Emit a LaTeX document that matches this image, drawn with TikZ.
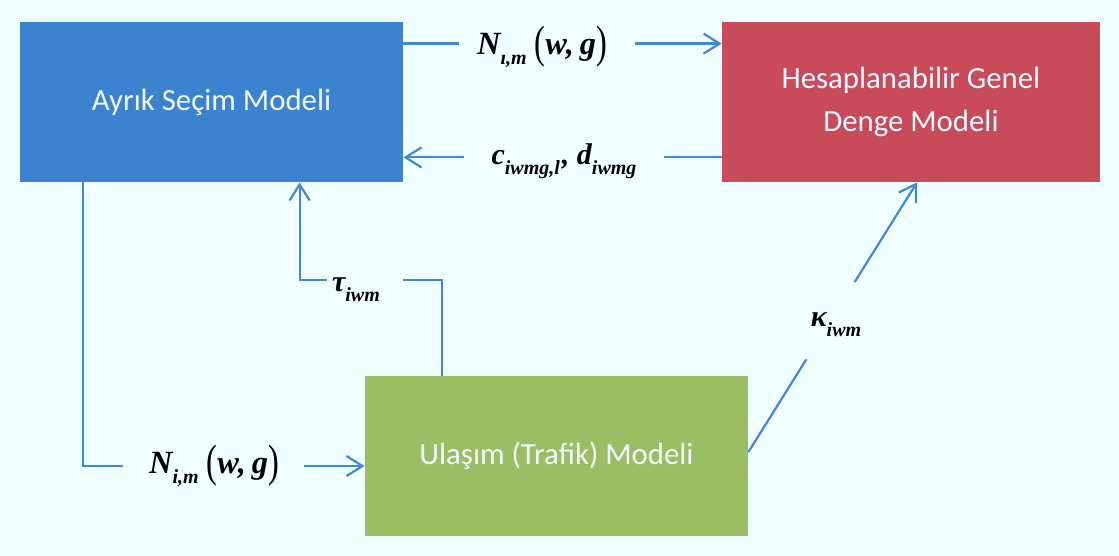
\documentclass[tikz,border=0pt]{standalone}
\usepackage{fontspec}
\usepackage{graphicx}
\setmainfont{Carlito}
\newfontfamily\lblfont{Liberation Serif}
\usetikzlibrary{arrows.meta,calc}

\definecolor{bg}{HTML}{F0FFFF}
\definecolor{bluebox}{HTML}{3B82CF}
\definecolor{redbox}{HTML}{C84B59}
\definecolor{greenbox}{HTML}{9BBE64}
\definecolor{linkc}{HTML}{4288D8}
\definecolor{boxtext}{HTML}{F2F8FF}

% subscript and tall parentheses for the flow labels
\newcommand\sbs[1]{\raisebox{-0.32em}{\fontsize{10}{10}\selectfont #1}}
\newcommand\bp[1]{\raisebox{-0.12em}{\scalebox{1}[1.4]{\mdseries\upshape #1}}}

\tikzset{
  box/.style={inner sep=0pt, minimum width=191.5pt, minimum height=80pt,
    text=boxtext, align=center, font=\fontsize{15.4}{21.5}\selectfont},
  link/.style={draw=linkc, line width=1.1pt},
  tip/.style={-{Straight Barb[length=8pt,width=10pt]}},
  lbl/.style={inner sep=0pt, font=\lblfont\bfseries\itshape\fontsize{15}{15}\selectfont},
  nlbl/.style={lbl, font=\lblfont\bfseries\itshape\fontsize{16.2}{16}\selectfont}
}

\begin{document}
\begin{tikzpicture}[x=0.5pt,y=-0.5pt]
  \fill[bg] (0,0) rectangle (1119,556);
  \useasboundingbox (0,0) rectangle (1119,556);

  % model boxes
  \node[box, fill=bluebox] (blue) at (211.5,102) {Ayrık Seçim Modeli};
  \node[box, fill=redbox, minimum width=189pt] (red) at (911,102) {Hesaplanabilir Genel\\Denge Modeli};
  \node[box, fill=greenbox] (green) at (556.5,456) {Ulaşım (Trafik) Modeli};

  % flow labels
  \node[nlbl] (ntop) at (542,47) {N\sbs{ı,m}\kern4pt\bp{(}w,\kern3pt g\bp{)}};
  \node[lbl] (cd) at (564,161) {c\sbs{iwmg,l}\kern1pt, d\sbs{iwmg}};
  \node[nlbl] (nbot) at (214,466) {N\sbs{i,m}\kern4pt\bp{(}w,\kern3pt g\bp{)}};
  \node[lbl] (tau) at (356,290) {τ\sbs{iwm}};
  \node[lbl] (kap) at (836,325) {κ\sbs{iwm}};

  % anchor points on the boxes
  \coordinate (a1) at ([yshift=-11pt]blue.north east);
  \coordinate (a2) at ([yshift=-11pt]red.north west);
  \coordinate (b1) at ([yshift=12.5pt]red.south west);
  \coordinate (b2) at ([yshift=12.5pt]blue.south east);
  \coordinate (l1) at ([xshift=31.5pt]blue.south west);
  \coordinate (u1) at ([xshift=38.5pt]green.north west);
  \coordinate (v1) at ([xshift=140pt]blue.south west);
  \coordinate (tl) at (0,280);
  \coordinate (k1) at ([yshift=2pt]green.east);
  \coordinate (k2) at ([xshift=3pt]red.south);

  % connectors
  \draw[link, shorten >=9pt] (a1) -- (ntop.west |- a1);
  \draw[link, tip, shorten <=14pt] (ntop.east |- a1) -- (a2);

  \draw[link, shorten >=13.5pt] (b1) -- (cd.east |- b1);
  \draw[link, tip, shorten <=13.5pt] (cd.west |- b1) -- (b2);

  \draw[link, shorten >=13pt] (l1) |- (nbot.west);
  \draw[link, tip, shorten <=12.5pt] (nbot.east) -- (green.west |- nbot.east);

  \draw[link, shorten >=11.5pt] (u1) |- (tau.east |- tl);
  \draw[link, tip, shorten <=2.5pt] (tau.west |- tl) -| (v1);

  \draw[link] (k1) -- ($(k1)!0.344!(k2)$);
  \draw[link, tip] ($(k1)!0.63!(k2)$) -- (k2);
\end{tikzpicture}
\end{document}
